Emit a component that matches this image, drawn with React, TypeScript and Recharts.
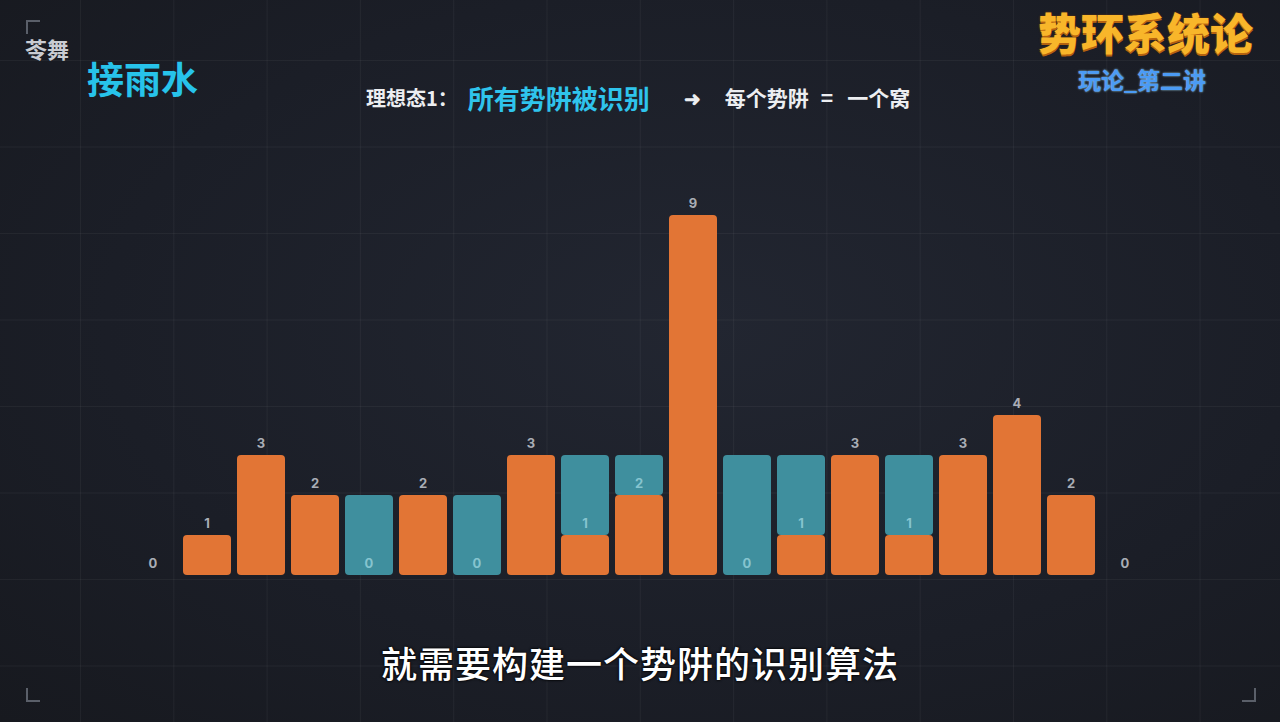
import { ComposedChart, Bar, Line, XAxis, YAxis, LabelList } from 'recharts';

// 地形高度（橙色柱）与积水量（青色柱），共 19 列
const columns = ['0', '1', '2', '3', '4', '5', '6', '7', '8', '9', '10', '11', '12', '13', '14', '15', '16', '17', '18'];
const heights = [0, 1, 3, 2, 0, 2, 0, 3, 1, 2, 9, 0, 1, 3, 1, 3, 4, 2, 0];
const water = [0, 0, 0, 0, 2, 0, 2, 0, 2, 1, 0, 3, 2, 0, 2, 0, 0, 0, 0];

const ORANGE = '#e27535';
const TEAL = '#3f8f9e';
const CJK = '"Noto Sans CJK SC", "Noto Sans", sans-serif';

const data = columns.map((c, i) => ({ col: c, h: heights[i], w: water[i] }));

// the label value is the column name, so the height and water can be looked up from it
function HeightLabel(props: { x?: number; y?: number; value?: string }) {
  const { x = 0, y = 0, value } = props;
  const i = Number(value);
  const inWater = water[i] > 0;
  return (
    <text
      x={x}
      y={y - 12}
      fill={inWater ? '#86c4cf' : '#a9adb5'}
      fontSize={13}
      fontWeight={700}
      fontFamily="Inter, Roboto, sans-serif"
      textAnchor="middle"
      dominantBaseline="central"
    >
      {heights[i]}
    </text>
  );
}

function Corner({ left, top, rot }: { left: number; top: number; rot: number }) {
  return (
    <div
      style={{
        position: 'absolute',
        left,
        top,
        width: 12,
        height: 12,
        borderLeft: '2px solid #5a5f69',
        borderBottom: '2px solid #5a5f69',
        transform: `rotate(${rot}deg)`,
      }}
    />
  );
}

export default function App() {
  return (
    <div
      style={{
        position: 'absolute',
        left: 0,
        top: 0,
        width: 1280,
        height: 722,
        overflow: 'hidden',
        fontFamily: CJK,
        backgroundColor: '#1b1e27',
        backgroundImage:
          'linear-gradient(to right, rgba(255,255,255,0.045) 1px, transparent 1px), linear-gradient(to bottom, rgba(255,255,255,0.045) 1px, transparent 1px), radial-gradient(ellipse at 55% 45%, #222631 0%, #1b1e27 60%, #17191f 100%)',
        backgroundSize: '93.3px 86.5px, 93.3px 86.5px, 100% 100%',
        backgroundPosition: '80px 60px, 80px 60px, 0 0',
      }}
    >
      <Corner left={26} top={20} rot={90} />
      <Corner left={26} top={688} rot={0} />
      <Corner left={1242} top={688} rot={-90} />

      <div style={{ position: 'absolute', left: 25, top: 34, fontSize: 22, fontWeight: 700, color: '#c9ccd2', lineHeight: '28px' }}>
        苓舞
      </div>
      <div style={{ position: 'absolute', left: 87, top: 58, fontSize: 37, fontWeight: 700, color: '#27c3ea', lineHeight: '40px' }}>
        接雨水
      </div>

      <div
        style={{
          position: 'absolute',
          left: 1038,
          top: 9,
          fontSize: 43,
          fontWeight: 900,
          color: '#f8b62a',
          lineHeight: '44px',
          textShadow: '0 2px 0 #b5620f, 0 0 2px #7a3d08',
        }}
      >
        势环系统论
      </div>
      <div
        style={{
          position: 'absolute',
          left: 1078,
          top: 67,
          fontSize: 23,
          fontWeight: 700,
          color: '#4b9bf5',
          lineHeight: '24px',
          textShadow: '0 0 2px #a8e4ff',
        }}
      >
        玩论_第二讲
      </div>

      <div
        style={{
          position: 'absolute',
          left: 366,
          top: 80,
          height: 34,
          display: 'flex',
          alignItems: 'center',
          fontWeight: 700,
          color: '#eceef1',
          fontSize: 20,
          whiteSpace: 'pre',
        }}
      >
        <span>理想态1：</span>
        <span style={{ color: '#2fc4ec', fontSize: 26, marginLeft: 10 }}>所有势阱被识别</span>
        <span style={{ marginLeft: 34 }}>➜</span>
        <span style={{ marginLeft: 24, fontSize: 21 }}>每个势阱</span>
        <span style={{ marginLeft: 12, fontSize: 21 }}>=</span>
        <span style={{ marginLeft: 14, fontSize: 21 }}>一个窝</span>
      </div>

      <div style={{ position: 'absolute', left: 0, top: 0 }}>
        <ComposedChart
          width={1280}
          height={722}
          data={data}
          margin={{ top: 175, right: 128, bottom: 147, left: 126 }}
          barCategoryGap={3}
          barSize={48}
        >
          <XAxis dataKey="col" hide />
          <YAxis hide domain={[0, 10]} />
          <Bar dataKey="h" stackId="s" fill={ORANGE} radius={4} isAnimationActive={false} />
          <Bar dataKey="w" stackId="s" fill={TEAL} radius={4} isAnimationActive={false} />
          <Line dataKey="h" stroke="none" dot={false} activeDot={false} isAnimationActive={false}>
            <LabelList dataKey="col" content={<HeightLabel />} />
          </Line>
        </ComposedChart>
      </div>

      <div
        style={{
          position: 'absolute',
          left: 0,
          width: 1280,
          top: 640,
          textAlign: 'center',
          fontSize: 36,
          letterSpacing: 1,
          fontWeight: 500,
          color: '#ffffff',
          lineHeight: '44px',
          textShadow: '0 0 3px #000, 0 0 2px #000',
        }}
      >
        就需要构建一个势阱的识别算法
      </div>
    </div>
  );
}
